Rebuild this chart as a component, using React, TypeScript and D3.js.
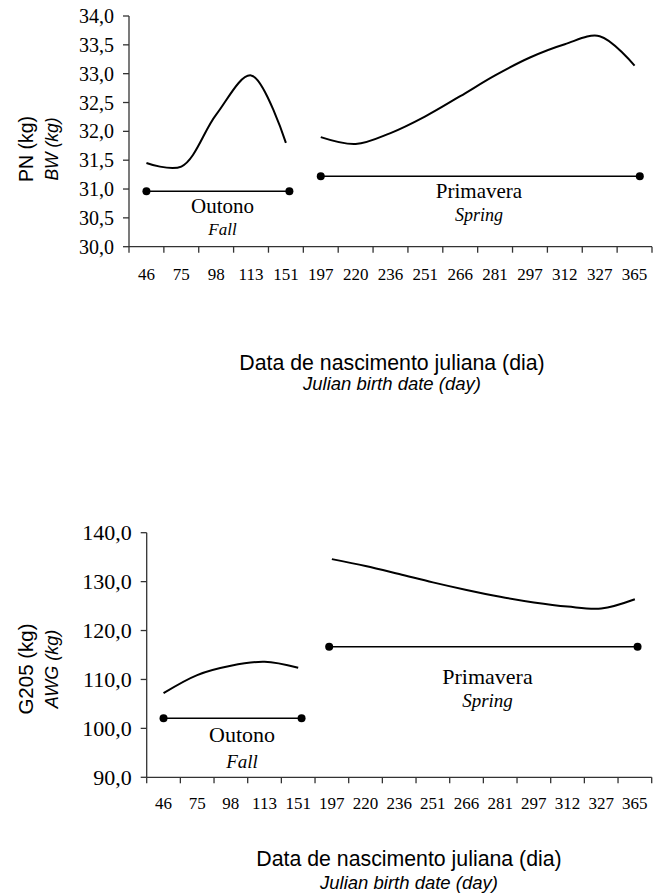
import React from 'react';
import * as d3 from 'd3';

const categories = ['46', '75', '98', '113', '151', '197', '220', '236', '251', '266', '281', '297', '312', '327', '365'];
const fallDays = categories.slice(0, 5);
const springDays = categories.slice(5);

const bwFall = [31.45, 31.39, 32.29, 32.97, 31.8];
const bwSpring = [31.9, 31.78, 31.97, 32.26, 32.61, 32.97, 33.28, 33.51, 33.65, 33.14];
const awgFall = [107.2, 110.9, 112.8, 113.6, 112.4];
const awgSpring = [134.6, 133.2, 131.55, 129.85, 128.3, 126.9, 125.75, 124.9, 124.5, 126.4];

const bwTicks = [30, 30.5, 31, 31.5, 32, 32.5, 33, 33.5, 34];
const awgTicks = [90, 100, 110, 120, 130, 140];

// season bars: [level, start index, end index]
const bwSeasonFall = [30.96, 0, 4.1];
const bwSeasonSpring = [31.22, 5, 14.15];
const awgSeasonFall = [102.06, 0, 4.1];
const awgSeasonSpring = [116.7, 4.92, 14.08];

const SERIF = "'Liberation Serif', 'Times New Roman', Tinos, serif";
const SANS = "'Liberation Sans', Arial, sans-serif";

type PanelProps = {
  x0: number; x1: number; yTop: number; yBot: number;
  domain: [number, number]; ticks: number[];
  fall: number[]; spring: number[];
  seasonFall: number[]; seasonSpring: number[];
  yFont: number;
  tickLabelY: number;
  fallLabel: { x: number; y: number; y2: number; s1: number; s2: number };
  springLabel: { x: number; y: number; y2: number; s1: number; s2: number };
  yTitle: { main: string; sub: string; y: number; x1: number; x2: number; s1: number; s2: number };
  xTitle: { x: number; y1: number; y2: number };
};

function Panel(p: PanelProps) {
  const xb = d3.scaleBand<string>().domain(categories).range([p.x0, p.x1]).paddingInner(0).paddingOuter(0);
  const xi = d3.scaleLinear().domain([-0.5, categories.length - 0.5]).range([p.x0, p.x1]);
  const y = d3.scaleLinear().domain(p.domain).range([p.yBot, p.yTop]);
  const line = d3.line<[string, number]>()
    .x(d => (xb(d[0]) as number) + xb.bandwidth() / 2)
    .y(d => y(d[1]))
    .curve(d3.curveCatmullRom.alpha(0.5));
  const fallPts = fallDays.map((c, i) => [c, p.fall[i]] as [string, number]);
  const springPts = springDays.map((c, i) => [c, p.spring[i]] as [string, number]);
  const axisColor = '#333';
  const boundaries = d3.range(categories.length + 1).map(i => p.x0 + i * xb.step());

  const season = (s: number[], key: string) => (
    <g key={key}>
      <line x1={xi(s[1])} x2={xi(s[2])} y1={y(s[0])} y2={y(s[0])} stroke="#000" strokeWidth={1.5} />
      <circle cx={xi(s[1])} cy={y(s[0])} r={4} fill="#000" />
      <circle cx={xi(s[2])} cy={y(s[0])} r={4} fill="#000" />
    </g>
  );

  return (
    <g>
      <line x1={p.x0} x2={p.x0} y1={p.yTop} y2={p.yBot} stroke={axisColor} strokeWidth={1.3} />
      {p.ticks.map(t => (
        <g key={'yt' + t}>
          <line x1={p.x0 - 6} x2={p.x0} y1={y(t)} y2={y(t)} stroke={axisColor} strokeWidth={1.3} />
          <text x={p.x0 - 15} y={y(t)} dy="0.35em" textAnchor="end" style={{ fontFamily: SERIF }} fontSize={p.yFont} fill="#000">
            {d3.format('.1f')(t).replace('.', ',')}
          </text>
        </g>
      ))}
      <line x1={p.x0} x2={p.x1} y1={p.yBot} y2={p.yBot} stroke={axisColor} strokeWidth={1.3} />
      {boundaries.map((bx, i) => (
        <line key={'xt' + i} x1={bx} x2={bx} y1={p.yBot} y2={p.yBot + 6} stroke={axisColor} strokeWidth={1.3} />
      ))}
      {categories.map(c => (
        <text key={'xl' + c} x={(xb(c) as number) + xb.bandwidth() / 2} y={p.tickLabelY} textAnchor="middle" style={{ fontFamily: SERIF }} fontSize={17} fill="#000">
          {c}
        </text>
      ))}
      <path d={line(fallPts) || ''} fill="none" stroke="#000" strokeWidth={2} />
      <path d={line(springPts) || ''} fill="none" stroke="#000" strokeWidth={2} />
      {season(p.seasonFall, 'sf')}
      {season(p.seasonSpring, 'ss')}
      <text x={p.fallLabel.x} y={p.fallLabel.y} textAnchor="middle" style={{ fontFamily: SERIF }} fontSize={p.fallLabel.s1}>Outono</text>
      <text x={p.fallLabel.x} y={p.fallLabel.y2} textAnchor="middle" style={{ fontFamily: SERIF }} fontStyle="italic" fontSize={p.fallLabel.s2}>Fall</text>
      <text x={p.springLabel.x} y={p.springLabel.y} textAnchor="middle" style={{ fontFamily: SERIF }} fontSize={p.springLabel.s1}>Primavera</text>
      <text x={p.springLabel.x} y={p.springLabel.y2} textAnchor="middle" style={{ fontFamily: SERIF }} fontStyle="italic" fontSize={p.springLabel.s2}>Spring</text>
      <text transform={`translate(${p.yTitle.x1},${p.yTitle.y}) rotate(-90)`} textAnchor="middle" style={{ fontFamily: SANS }} fontSize={p.yTitle.s1}>{p.yTitle.main}</text>
      <text transform={`translate(${p.yTitle.x2},${p.yTitle.y}) rotate(-90)`} textAnchor="middle" style={{ fontFamily: SANS }} fontStyle="italic" fontSize={p.yTitle.s2}>{p.yTitle.sub}</text>
      <text x={p.xTitle.x} y={p.xTitle.y1} textAnchor="middle" style={{ fontFamily: SANS }} fontSize={21.3}>Data de nascimento juliana (dia)</text>
      <text x={p.xTitle.x} y={p.xTitle.y2} textAnchor="middle" style={{ fontFamily: SANS }} fontStyle="italic" fontSize={18.5}>Julian birth date (day)</text>
    </g>
  );
}

export default function App() {
  return (
    <svg width={655} height={893} style={{ position: 'absolute', left: 0, top: 0, background: '#fff' }}>
      <rect x={0} y={0} width={655} height={893} fill="#fff" />
      <Panel
        x0={129} x1={652} yTop={16} yBot={246.7}
        domain={[30, 34]} ticks={bwTicks}
        fall={bwFall} spring={bwSpring}
        seasonFall={bwSeasonFall} seasonSpring={bwSeasonSpring}
        yFont={20} tickLabelY={280}
        fallLabel={{ x: 222.5, y: 213, y2: 235, s1: 21, s2: 17 }}
        springLabel={{ x: 479, y: 198, y2: 221, s1: 21, s2: 18 }}
        yTitle={{ main: 'PN (kg)', sub: 'BW (kg)', y: 149, x1: 33, x2: 58, s1: 19.5, s2: 17.5 }}
        xTitle={{ x: 392, y1: 370, y2: 390 }}
      />
      <Panel
        x0={146.7} x1={651.7} yTop={532.7} yBot={777.3}
        domain={[90, 140]} ticks={awgTicks}
        fall={awgFall} spring={awgSpring}
        seasonFall={awgSeasonFall} seasonSpring={awgSeasonSpring}
        yFont={22} tickLabelY={809}
        fallLabel={{ x: 242, y: 742, y2: 768, s1: 22, s2: 19 }}
        springLabel={{ x: 487.5, y: 684, y2: 707, s1: 22, s2: 19 }}
        yTitle={{ main: 'G205 (kg)', sub: 'AWG (kg)', y: 669, x1: 33, x2: 58, s1: 20.5, s2: 18 }}
        xTitle={{ x: 409, y1: 866, y2: 889 }}
      />
    </svg>
  );
}
